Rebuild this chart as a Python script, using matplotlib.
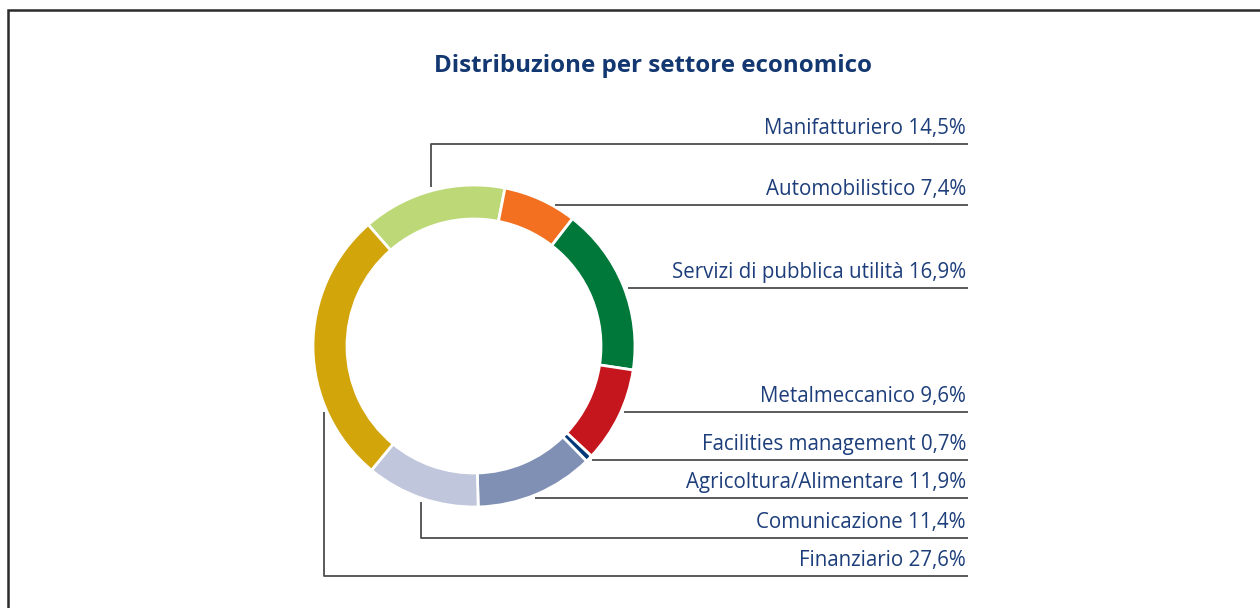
import matplotlib.pyplot as plt

# data
sectors = ["Manifatturiero", "Automobilistico", "Servizi di pubblica utilità",
           "Metalmeccanico", "Facilities management", "Agricoltura/Alimentare",
           "Comunicazione", "Finanziario"]
shares = [14.5, 7.4, 16.9, 9.6, 0.7, 11.9, 11.4, 27.6]
colors = ["#bdd977", "#f37021", "#00783a", "#c5161d", "#00387a",
          "#7f90b4", "#c0c6dc", "#d2a50a"]
title = "Distribuzione per settore economico"

# layout (pixel coords, y measured from top)
W, H = 1260, 608
center = (474, 346)
r_out, ring = 161, 34
text_x, line_end = 966, 968
line_y = [144, 205, 288, 412, 460, 498, 538, 576]
# leader start x, and top of the vertical part where there is one
lead_x = [431, 555, 628, 624, 592, 535, 421, 324]
lead_top = [187, None, None, None, None, None, 502, 412]

text_col = "#1d3e7a"
line_col = "#4d4d4d"

fig = plt.figure(figsize=(W / 100, H / 100), dpi=100)
ax = fig.add_axes([0, 0, 1, 1])


def fy(y):
    return H - y


# donut, clockwise, Automobilistico starting ~11 deg right of top
ax.pie(shares, colors=colors, center=(center[0], fy(center[1])), radius=r_out,
       startangle=131.1, counterclock=False, frame=True,
       wedgeprops=dict(width=ring, edgecolor="white", linewidth=2))
ax.set_xlim(0, W)
ax.set_ylim(0, H)
ax.set_aspect("equal")
ax.axis("off")

# labels with leader lines
for name, val, ly, lx, lt in zip(sectors, shares, line_y, lead_x, lead_top):
    lbl = f"{name} {val:.1f}%".replace(".", ",")
    ax.text(text_x, fy(ly - 10), lbl, ha="right", va="baseline",
            fontsize=14.8, color=text_col,
            family=["Open Sans", "DejaVu Sans"])
    xs = [lx, line_end]
    ys = [fy(ly), fy(ly)]
    if lt is not None:
        xs = [lx] + xs
        ys = [fy(lt)] + ys
    ax.plot(xs, ys, color=line_col, lw=1.3, solid_capstyle="butt")

ax.text(653, fy(72), title, ha="center", va="baseline", fontsize=17.4,
        fontweight="bold", color="#133770", family=["Open Sans", "DejaVu Sans"])

# frame (top and left edges)
ax.plot([8, 8, W], [0, fy(10), fy(10)], color="#2b2b2b", lw=1.8,
        solid_joinstyle="miter")

fig.savefig("out.png", dpi=100, facecolor="white")
